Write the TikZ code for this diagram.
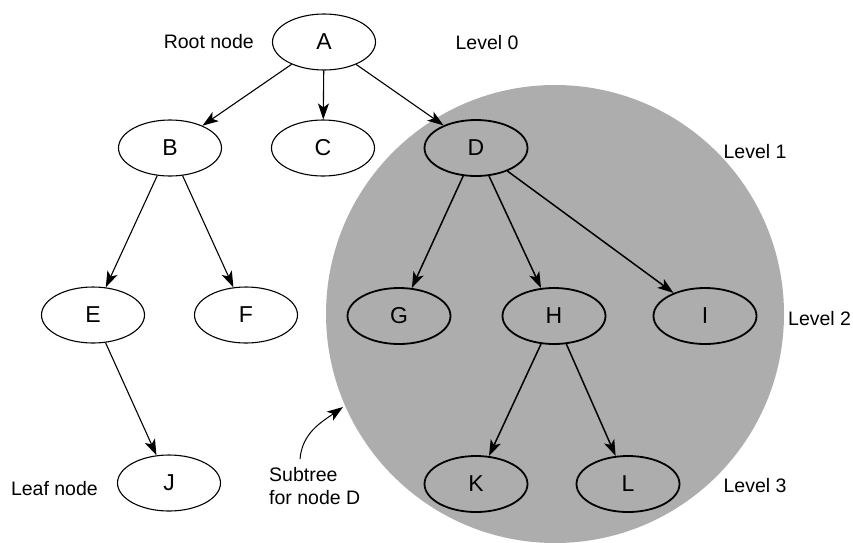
\documentclass[tikz,border=0pt]{standalone}
\usepackage{fontspec}
\setmainfont{Liberation Sans}
\usetikzlibrary{arrows.meta,shapes.geometric}

\begin{document}
\begin{tikzpicture}[
  x=1pt, y=-1pt,
  font=\fontsize{19.5}{23}\selectfont,
  n/.style={draw, ellipse, line width=1.1pt, minimum width=103pt, minimum height=56pt,
    inner sep=0pt, font=\fontsize{23}{23}\selectfont},
  sn/.style={n, line width=1.8pt},
  lbl/.style={inner sep=0pt},
  arr/.style={-{Stealth[length=16pt,width=11pt,inset=4pt]}, line width=1.1pt},
  sarr/.style={arr, line width=1.5pt}
]
\useasboundingbox (0,0) rectangle (853,542);
% shaded subtree of D
\begin{scope}
  \clip (0,0) rectangle (853,542);
  \fill[black!32] (555,314) circle[radius=229pt];
\end{scope}
% tree nodes
\node[n] (A) at (324,42) {A};
\node[n] (B) at (170,148) {B};
\node[n] (C) at (323,148) {C};
\node[sn] (D) at (476,148) {D};
\node[n] (E) at (93,315) {E};
\node[n] (F) at (246,315) {F};
\node[sn] (G) at (399,316) {G};
\node[sn] (H) at (554,316) {H};
\node[sn] (I) at (705,316) {I};
\node[n] (J) at (169,483) {J};
\node[sn] (K) at (476,484) {K};
\node[sn] (L) at (628,484) {L};
% labels
\node[lbl, anchor=east] (root) at (254,42) {Root node};
\node[lbl] (lv0) at (487,43) {Level 0};
\node[lbl] (lv1) at (755,152) {Level 1};
\node[lbl, anchor=west] (lv2) at (788,319) {Level 2};
\node[lbl] (lv3) at (755,486) {Level 3};
\node[lbl, anchor=east] (leaf) at (98,489) {Leaf node};
\node[lbl, anchor=north west, align=left] (subt) at (269,467) {Subtree\\for node D};
\coordinate (subfrom) at (300,459);
\coordinate (subtip) at (343,407);
% edges
\foreach \a/\b in {A/B,A/C,A/D,B/E,B/F,E/J}
  \draw[arr] (\a) -- (\b);
\foreach \a/\b in {D/G,D/H,D/I,H/K,H/L}
  \draw[sarr] (\a) -- (\b);
\draw[arr, line width=1pt] (subfrom) to[out=85,in=215] (subtip);
\end{tikzpicture}
\end{document}
